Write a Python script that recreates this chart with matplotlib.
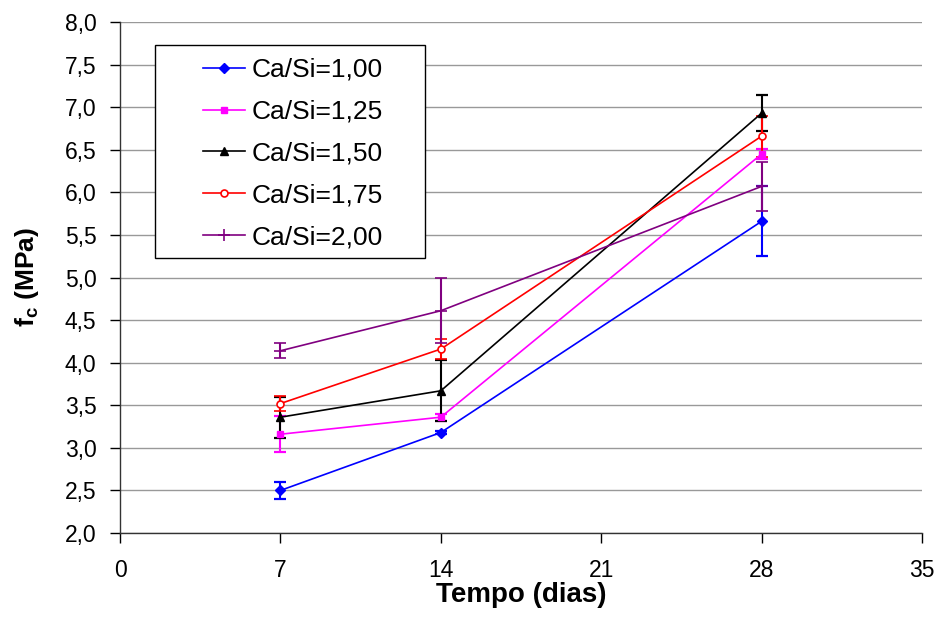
import matplotlib
matplotlib.use("Agg")
import matplotlib.pyplot as plt
from matplotlib.patches import Rectangle

plt.rcParams['font.family'] = ['Liberation Sans', 'DejaVu Sans']
plt.rcParams['mathtext.fontset'] = 'custom'
plt.rcParams['mathtext.rm'] = 'Liberation Sans'
plt.rcParams['mathtext.bf'] = 'Liberation Sans:bold'

# curing time (days)
dias = [7, 14, 28]

# compressive strength (MPa) and std deviation per Ca/Si ratio
fc_100 = [2.50, 3.18, 5.66]
sd_100 = [0.10, 0.02, 0.41]
fc_125 = [3.16, 3.36, 6.45]
sd_125 = [0.21, 0.04, 0.06]
fc_150 = [3.36, 3.67, 6.93]
sd_150 = [0.24, 0.36, 0.21]
fc_175 = [3.52, 4.16, 6.66]
sd_175 = [0.09, 0.12, 0.24]
fc_200 = [4.14, 4.61, 6.07]
sd_200 = [0.09, 0.38, 0.29]

labels = ['Ca/Si=1,00', 'Ca/Si=1,25', 'Ca/Si=1,50', 'Ca/Si=1,75', 'Ca/Si=2,00']

series = [
    (fc_100, sd_100, '#0000FF', dict(marker='D', ms=5, mfc='#0000FF')),
    (fc_125, sd_125, '#FF00FF', dict(marker='s', ms=5, mfc='#FF00FF')),
    (fc_150, sd_150, '#000000', dict(marker='^', ms=6, mfc='#000000')),
    (fc_175, sd_175, '#FF0000', dict(marker='o', ms=5, mfc='white', mew=1.2)),
    (fc_200, sd_200, '#800080', dict(marker='+', ms=8, mew=1.2)),
]

fig = plt.figure(figsize=(9.42, 6.24), dpi=100)
ax = fig.add_axes([0.1274, 0.1458, 0.8514, 0.8189])

for (vals, sd, col, mk), lab in zip(series, labels):
    ax.errorbar(dias, vals, yerr=sd, color=col, lw=1.2, capsize=4.5,
                capthick=1.6, elinewidth=1.5, label=lab, **mk)

ax.set_xlim(0, 35)
ax.set_ylim(2.0, 8.0)
ax.set_xticks(range(0, 36, 7))
yt = [2.0 + 0.5 * i for i in range(13)]
ax.set_yticks(yt)
ax.set_yticklabels([f"{v:.1f}".replace('.', ',') for v in yt])
ax.tick_params(axis='both', labelsize=16.5, direction='out', length=7, width=1)
ax.tick_params(axis='y', pad=10)
ax.tick_params(axis='x', pad=12)

ax.yaxis.grid(True, color='#999999', lw=1)
ax.set_axisbelow(True)
for s in ['top', 'right']:
    ax.spines[s].set_visible(False)
for s in ['left', 'bottom']:
    ax.spines[s].set_linewidth(1)
    ax.spines[s].set_color('#333333')

ax.set_xlabel('Tempo (dias)', fontsize=20, fontweight='bold', labelpad=0)
ax.set_ylabel(r'$\mathbf{f_c}$ (MPa)', fontsize=19, fontweight='bold', labelpad=17)

# legend frame drawn separately so the box can be wider than the entries
ax.add_patch(Rectangle((0.0436, 0.538), 0.3367, 0.417, transform=ax.transAxes,
                       facecolor='white', edgecolor='black', lw=1, zorder=5))

handles, labs = ax.get_legend_handles_labels()
handles = [h[0] for h in handles]
leg = ax.legend(handles, labs, loc='upper left', bbox_to_anchor=(0.1035, 0.930),
                borderaxespad=0, borderpad=0, fontsize=19, frameon=False,
                handlelength=1.6, labelspacing=0.68, handletextpad=0.25)
leg.set_zorder(6)

fig.savefig('out.png', dpi=100)
